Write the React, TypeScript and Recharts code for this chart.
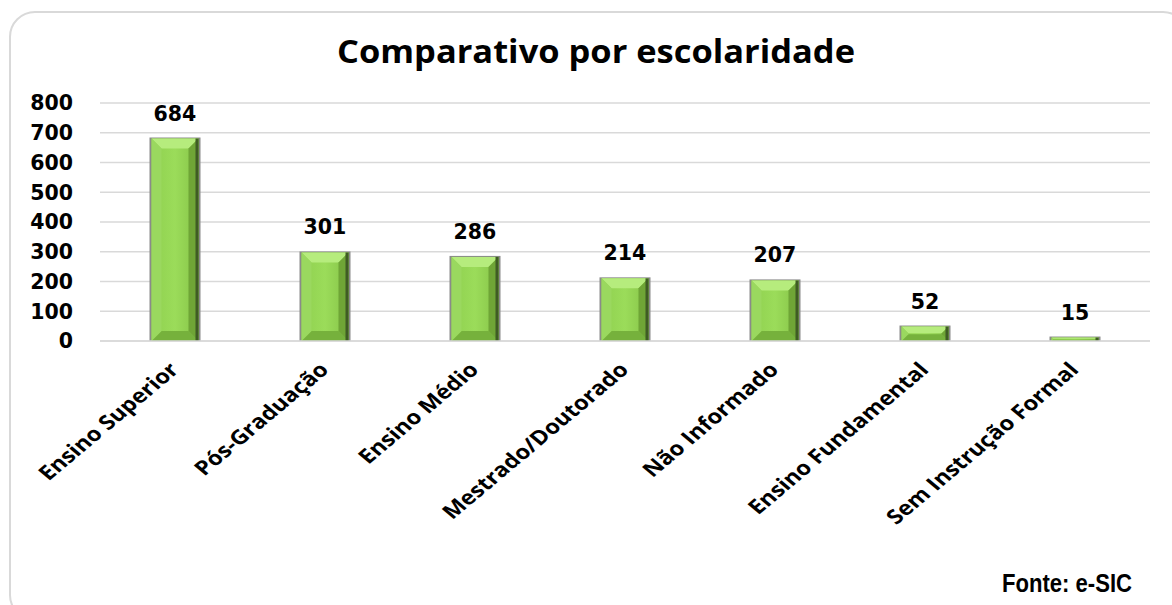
import React from 'react';
import { BarChart, Bar, XAxis, YAxis, CartesianGrid, LabelList } from 'recharts';

const categories = ['Ensino Superior', 'Pós-Graduação', 'Ensino Médio', 'Mestrado/Doutorado', 'Não Informado', 'Ensino Fundamental', 'Sem Instrução Formal'];
const values = [684, 301, 286, 214, 207, 52, 15];
const yTicks = [0, 100, 200, 300, 400, 500, 600, 700, 800];

const data = categories.map((name, i) => ({ name, value: values[i] }));

const BevelBar = (props: any) => {
  const { x, y, width, height } = props;
  if (height == null || height <= 0) return null;
  const l = x + 2;
  const r = x + width - 2;
  const t = y + 1;
  const b = y + height;
  const bev = Math.max(0, Math.min(10, (height - 2) / 2));
  return (
    <g>
      <rect x={x} y={y} width={width} height={height} fill="#8a8a8a" />
      <rect x={l} y={t} width={r - l} height={b - t} fill="url(#barFill)" />
      {bev > 1 && (
        <>
          <polygon points={`${l},${t} ${r},${t} ${r - bev},${t + bev} ${l + bev},${t + bev}`} fill="#b6ec7d" />
          <polygon points={`${l},${b} ${r},${b} ${r - bev},${b - bev} ${l + bev},${b - bev}`} fill="#76b13c" />
          <polygon points={`${r},${t} ${r},${b} ${r - bev},${b - bev} ${r - bev},${t + bev}`} fill="#6fa536" />
          <polygon points={`${l},${t} ${l},${b} ${l + bev},${b - bev} ${l + bev},${t + bev}`} fill="#9ad85f" />
        </>
      )}
      <rect x={r - 3} y={t} width={3} height={b - t} fill="#3f5c24" />
    </g>
  );
};

const CatTick = (props: any) => {
  const { x, payload } = props;
  return (
    <g transform={`translate(${x + 5},${371}) scale(1.19,1)`}>
      <text
        transform="rotate(-45)"
        x={0}
        y={0}
        textAnchor="end"
        fontFamily="'Open Sans', sans-serif"
        fontWeight={700}
        fontSize={20}
        fill="#000"
      >
        {payload.value}
      </text>
    </g>
  );
};

const ValueLabel = (props: any) => {
  const { x, y, width, value } = props;
  return (
    <text
      x={x + width / 2}
      y={y - 17}
      textAnchor="middle"
      fontFamily="'DejaVu Sans', sans-serif"
      fontWeight={700}
      fontSize={20.5}
      fill="#000"
    >
      {value}
    </text>
  );
};

export default function App() {
  return (
    <div style={{ position: 'absolute', left: 0, top: 0, width: 1172, height: 605, overflow: 'hidden', background: '#fff' }}>
      <div
        style={{
          position: 'absolute',
          left: 9,
          top: 11,
          width: 1180,
          height: 610,
          border: '2px solid #d9d9d9',
          borderRadius: 26,
          boxSizing: 'border-box',
        }}
      />
      <svg width={1172} height={605} style={{ position: 'absolute', left: 0, top: 0 }}>
        <text
          x={337}
          y={63}
          textLength={518}
          lengthAdjust="spacingAndGlyphs"
          fontFamily="'Open Sans', sans-serif"
          fontWeight={700}
          fontSize={32}
          fill="#000"
        >
          Comparativo por escolaridade
        </text>
        <text
          x={1002}
          y={592}
          textLength={130}
          lengthAdjust="spacingAndGlyphs"
          fontFamily="'Liberation Sans', Arial, sans-serif"
          fontWeight={700}
          fontSize={25}
          fill="#000"
        >
          Fonte: e-SIC
        </text>
      </svg>
      <div style={{ position: 'absolute', left: 0, top: 0 }}>
        <BarChart
          width={1172}
          height={605}
          data={data}
          margin={{ top: 103, right: 22, left: 0, bottom: 0 }}
          barCategoryGap="33%"
        >
          <defs>
            <linearGradient id="barFill" x1="0" y1="0" x2="1" y2="0">
              <stop offset="0%" stopColor="#8fd04f" />
              <stop offset="50%" stopColor="#9bdc5a" />
              <stop offset="100%" stopColor="#86c348" />
            </linearGradient>
          </defs>
          <CartesianGrid vertical={false} stroke="#d9d9d9" strokeWidth={1.5} />
          <XAxis
            dataKey="name"
            interval={0}
            tickLine={false}
            axisLine={{ stroke: '#d9d9d9', strokeWidth: 1.5 }}
            tick={<CatTick />}
            height={264}
          />
          <YAxis
            domain={[0, 800]}
            ticks={yTicks}
            width={100}
            axisLine={false}
            tickLine={false}
            tickMargin={21}
            tick={{ fontFamily: "'DejaVu Sans', sans-serif", fontWeight: 700, fontSize: 20.5, fill: '#000' }}
          />
          <Bar dataKey="value" shape={<BevelBar />} isAnimationActive={false}>
            <LabelList dataKey="value" content={<ValueLabel />} />
          </Bar>
        </BarChart>
      </div>
    </div>
  );
}
